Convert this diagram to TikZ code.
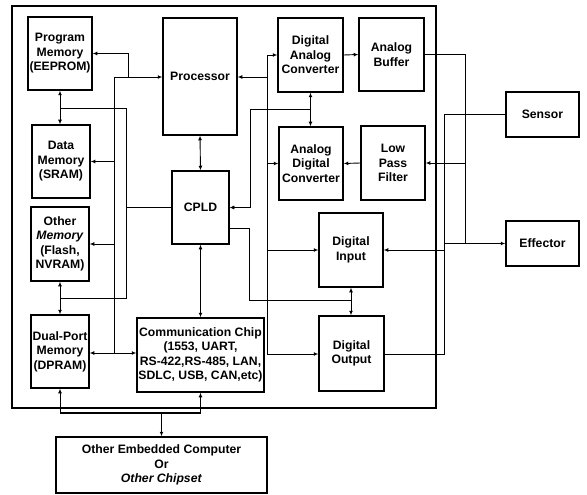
\documentclass[tikz,border=0pt]{standalone}
\usepackage{fontspec}
\setmainfont{Liberation Sans}
\usetikzlibrary{arrows.meta}
\begin{document}
\begin{tikzpicture}[x=1pt,y=-1pt,
  blk/.style={draw,line width=1.5pt,align=center,inner sep=0pt,
    font=\fontsize{12.2}{14.5}\selectfont\bfseries},
  ln/.style={line width=0.9pt},
  tn/.style={line width=0.5pt},
  arr/.style={ln,-{Latex[length=4.5pt,width=4pt]}},
  darr/.style={ln,{Latex[length=4.5pt,width=4pt]}-{Latex[length=4.5pt,width=4pt]}}]
\useasboundingbox (0,0) rectangle (587,495);
\draw[line width=2pt] (12,6) rectangle (436,408);
% boxes
\node[blk,minimum width=64pt,minimum height=73pt] (pm) at (60,53.5) {Program\\Memory\\(EEPROM)};
\node[blk,minimum width=58pt,minimum height=73pt] (dm) at (61,161.5) {Data\\Memory\\(SRAM)};
\node[blk,minimum width=58pt,minimum height=74pt] (om) at (60,244) {Other\\\textit{Memory}\\(Flash,\\NVRAM)};
\node[blk,minimum width=58pt,minimum height=73pt] (dp) at (60,351.5) {Dual-Port\\Memory\\(DPRAM)};
\node[blk,minimum width=74pt,minimum height=117pt] (proc) at (200,76.5) {Processor};
\node[blk,minimum width=57pt,minimum height=73pt] (cpld) at (200.5,207.5) {CPLD};
\node[blk,minimum width=127pt,minimum height=74pt] (comm) at (200.5,355) {Communication Chip\\(1553, UART,\\RS-422,RS-485, LAN,\\SDLC, USB, CAN,etc)};
\node[blk,minimum width=211pt,minimum height=56pt] (oec) at (161.5,465) {Other Embedded Computer\\Or\\\textit{Other Chipset}};
\node[blk,minimum width=65pt,minimum height=74pt] (dac) at (310.5,55) {Digital\\Analog\\Converter};
\node[blk,minimum width=65pt,minimum height=73pt] (ab) at (391.5,54.5) {Analog\\Buffer};
\node[blk,minimum width=64pt,minimum height=73pt] (adc) at (311,163.5) {Analog\\Digital\\Converter};
\node[blk,minimum width=64pt,minimum height=74pt] (lpf) at (393,163) {Low\\Pass\\Filter};
\node[blk,minimum width=64pt,minimum height=74pt] (di) at (351,250) {Digital\\Input};
\node[blk,minimum width=65pt,minimum height=75pt] (do) at (351.5,353.5) {Digital\\Output};
\node[blk,minimum width=73pt,minimum height=45pt] (sen) at (542.5,114.5) {Sensor};
\node[blk,minimum width=73pt,minimum height=45pt] (eff) at (542.5,243.5) {Effector};
% junction coordinates
\coordinate (lb1) at (114,77);
\coordinate (lb2) at (114,353);
\coordinate (rb1) at (267,55);
\coordinate (rb2) at (267,354);
\coordinate (bj) at (161.5,413);
% left memory links
\draw[darr] (pm.south) -- (pm.south |- dm.north);
\draw[darr] (om.south) -- (om.south |- dp.north);
\draw[tn] (pm.south |- 0,108) -- (126,108) -- (126,298) -- (om.south |- 0,298);
\draw[tn] (cpld.west) -- (126,207.5);
% left bus
\draw[ln] (lb1) -- (lb2);
\draw[arr] (lb1) -- (proc.west |- lb1);
\draw[arr] (128,77) |- (pm.east);
\draw[arr] (lb1 |- dm.east) -- (dm.east);
\draw[arr] (lb1 |- om.east) -- (om.east);
\draw[darr] (dp.east |- lb2) -- (comm.west |- lb2);
% processor / cpld / comm
\draw[darr] (proc.south) -- (cpld.north);
\draw[darr] (cpld.south) -- (comm.north);
% right bus
\draw[ln] (rb1) -- (rb2);
\draw[arr] (rb1) -- (dac.west);
\draw[arr] (267,77) -- (proc.east |- 0,77);
\draw[arr] (rb1 |- adc.west) -- (adc.west);
\draw[arr] (rb1 |- di.west) -- (di.west);
\draw[arr] (rb2) -- (do.west |- rb2);
% converters to cpld
\draw[darr] (dac.south) -- (dac.south |- adc.north);
\draw[arr,tn] (dac.south |- 0,109) -- (250,109) |- (cpld.east);
\draw[tn] (cpld.east |- 0,228) -- (249,228) -- (249,300) -- (di.south |- 0,300);
\draw[darr] (di.south) -- (di.south |- do.north);
% analog chain
\draw[arr] (dac.east) -- (ab.west);
\draw[ln] (ab.east) -| (465,243.5);
\draw[arr] (465,163) -- (lpf.east);
\draw[arr] (lpf.west) -- (adc.east);
\draw[ln] (sen.west) -- (444,114.5) -- (444,354) -- (do.east |- 0,354);
\draw[arr] (444,250) -- (di.east);
\draw[arr] (444,243.5) -- (eff.west);
% bottom
\draw[ln,line width=1.3pt] (dp.south |- bj) -- (comm.south |- bj);
\draw[arr] (dp.south |- bj) -- (dp.south);
\draw[arr] (comm.south |- bj) -- (comm.south);
\draw[arr] (bj) -- (oec.north);
\end{tikzpicture}
\end{document}
